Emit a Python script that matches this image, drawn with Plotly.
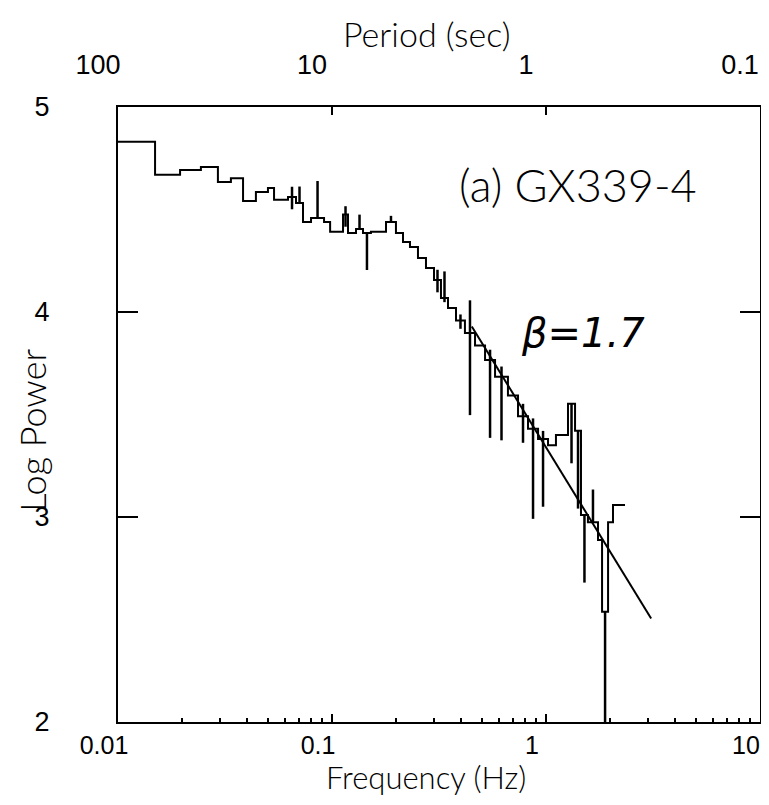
import numpy as np
import plotly.graph_objects as go

# ---- data ----
bin_edges_hz = [0.01, 0.0149, 0.0195, 0.0244, 0.0293, 0.0337, 0.0384, 0.0441, 0.0502, 0.0536,
                0.0623, 0.0679, 0.0732, 0.0798, 0.0918, 0.098, 0.1126, 0.1188, 0.1295, 0.1396,
                0.152, 0.1788, 0.199, 0.2147, 0.2314, 0.2522, 0.2749, 0.2997, 0.323, 0.3484,
                0.3797, 0.418, 0.466, 0.519, 0.578, 0.664, 0.740, 0.824, 0.918, 1.022,
                1.113, 1.267, 1.367, 1.457, 1.57, 1.75, 1.828, 1.95, 2.056, 2.34]

log_power = [4.831, 4.669, 4.693, 4.707, 4.634, 4.653, 4.542, 4.585, 4.605, 4.547,
             4.561, 4.532, 4.439, 4.459, 4.439, 4.391, 4.476, 4.385, 4.405, 4.385,
             4.391, 4.439, 4.385, 4.342, 4.317, 4.263, 4.215, 4.156, 4.068, 4.019,
             3.958, 3.897, 3.837, 3.766, 3.684, 3.593, 3.492, 3.431, 3.380, 3.350,
             3.400, 3.552, 3.421, 3.010, 2.974, 2.888, 2.538, 2.974, 3.058]

# error bars: bin index (0-based), upper and lower lengths
err_bin_index = [10, 11, 13, 16, 18, 19, 21, 27, 28, 30, 31, 33, 34, 36, 37, 38, 41, 42, 43, 44, 46]
err_plus =      [0.05, 0.08, 0.18, 0.04, 0.07, 0.0, 0.03, 0.05, 0.13, 0.03, 0.16, 0.05, 0.05, 0.06, 0.05, 0.04, 0.0, 0.0, 0.0, 0.16, 0.0]
err_minus =     [0.06, 0.0, 0.0, 0.06, 0.0, 0.18, 0.0, 0.06, 0.02, 0.04, 0.40, 0.38, 0.31, 0.13, 0.44, 0.33, 0.29, 0.38, 0.33, 0.0, 0.60]

fit_beta = 1.7
fit_norm = 3.34          # log power at 1 Hz
fit_range_hz = [0.45, 3.1]

freq_tickvals = [0.01, 0.1, 1, 10]
freq_ticktext = ["0.01", "0.1", "1", "10"]
period_ticktext = ["100", "10", "1", "0.1"]
power_tickvals = [2, 3, 4, 5]
power_ticktext = ["2", "3", "4", "5"]
minor_multipliers = [2, 3, 4, 5, 6, 7, 8, 9]

# ---- build traces ----
edges = np.array(bin_edges_hz)
powers = np.array(log_power)
step_x = edges
step_y = np.append(powers, powers[-1])

centers = np.sqrt(edges[:-1] * edges[1:])
eb_x = centers[err_bin_index]
eb_y = powers[err_bin_index]

fit_x = np.array(fit_range_hz)
fit_y = fit_norm - fit_beta * np.log10(fit_x)

minor_vals = [m * d for d in freq_tickvals[:-1] for m in minor_multipliers]

fig = go.Figure()
fig.add_trace(go.Scatter(x=step_x, y=step_y, mode="lines", line_shape="hv",
                         line=dict(color="black", width=2), showlegend=False))
fig.add_trace(go.Scatter(x=eb_x, y=eb_y, mode="markers",
                         marker=dict(size=1, color="rgba(0,0,0,0)"),
                         error_y=dict(type="data", symmetric=False, array=err_plus,
                                      arrayminus=err_minus, width=0, thickness=2.5,
                                      color="black"),
                         showlegend=False))
fig.add_trace(go.Scatter(x=fit_x, y=fit_y, mode="lines",
                         line=dict(color="black", width=2), showlegend=False))
# invisible trace to anchor the top (period) axis
fig.add_trace(go.Scatter(x=[0.01, 10], y=[2, 2], xaxis="x2", mode="markers",
                         marker=dict(size=1, color="rgba(0,0,0,0)"), showlegend=False,
                         hoverinfo="skip"))

tick_font = dict(family="Liberation Sans, Arial, sans-serif", size=27, color="black")
bottom_tick_font = dict(family="Liberation Sans, Arial, sans-serif", size=25, color="black")
title_font = dict(family="Lato, DejaVu Sans, sans-serif", size=34, color="black", weight=300)
bottom_title_font = dict(family="Lato, DejaVu Sans, sans-serif", size=31, color="black", weight=300)

fig.update_layout(
    width=753, height=789,
    margin=dict(l=110, r=1, t=99, b=75),
    paper_bgcolor="white", plot_bgcolor="white",
    xaxis=dict(type="log", range=[-2, 1], tickvals=freq_tickvals, ticktext=freq_ticktext,
               ticks="inside", ticklen=8, tickwidth=1.5, tickcolor="black",
               showline=True, linewidth=2, linecolor="black", showgrid=False, zeroline=False,
               tickfont=bottom_tick_font, ticklabelstandoff=0, ticklabeloverflow="allow",
               ticklabelshift=-14, automargin=False,
               minor=dict(tickvals=minor_vals, ticks="inside", ticklen=4,
                          tickcolor="black", showgrid=False)),
    xaxis2=dict(type="log", range=[-2, 1], overlaying="x", side="top",
                tickvals=freq_tickvals, ticktext=period_ticktext,
                ticks="inside", ticklen=8, tickwidth=1.5, tickcolor="black",
                showline=True, linewidth=2, linecolor="black", showgrid=False, zeroline=False,
                tickfont=tick_font, ticklabelstandoff=20, ticklabeloverflow="allow",
                ticklabelshift=-20, automargin=False),
    yaxis=dict(range=[2, 5], tickvals=power_tickvals, ticktext=power_ticktext,
               ticks="inside", ticklen=20, tickwidth=1.5, tickcolor="black",
               showline=True, linewidth=2, linecolor="black", mirror="ticks",
               showgrid=False, zeroline=False, tickfont=tick_font, ticklabelstandoff=61,
               automargin=False),
    annotations=[
        dict(text="Period (sec)", xref="paper", yref="paper", x=0.48, y=1.12,
             showarrow=False, font=title_font, xanchor="center", yanchor="middle"),
        dict(text="Frequency (Hz)", xref="paper", yref="paper", x=0.48, y=-0.0894,
             showarrow=False, font=bottom_title_font, xanchor="center", yanchor="middle"),
        dict(text="Log Power", xref="paper", yref="paper", x=-0.134, y=0.475,
             showarrow=False, font=dict(family="Lato, DejaVu Sans, sans-serif", size=36,
                                        color="black", weight=300),
             textangle=-90, xanchor="center", yanchor="middle"),
        dict(text="(a) GX339-4", xref="paper", yref="paper", x=0.717, y=0.873,
             showarrow=False, font=dict(family="Lato, DejaVu Sans, sans-serif", size=45,
                                        color="black", weight=300),
             xanchor="center", yanchor="middle"),
        dict(text="β=1.7", xref="paper", yref="paper", x=0.725, y=0.633,
             showarrow=False, font=dict(family="DejaVu Sans, sans-serif", size=40, color="black",
                                        weight=200, style="italic"),
             xanchor="center", yanchor="middle"),
    ],
)

fig.write_html("out.html")
